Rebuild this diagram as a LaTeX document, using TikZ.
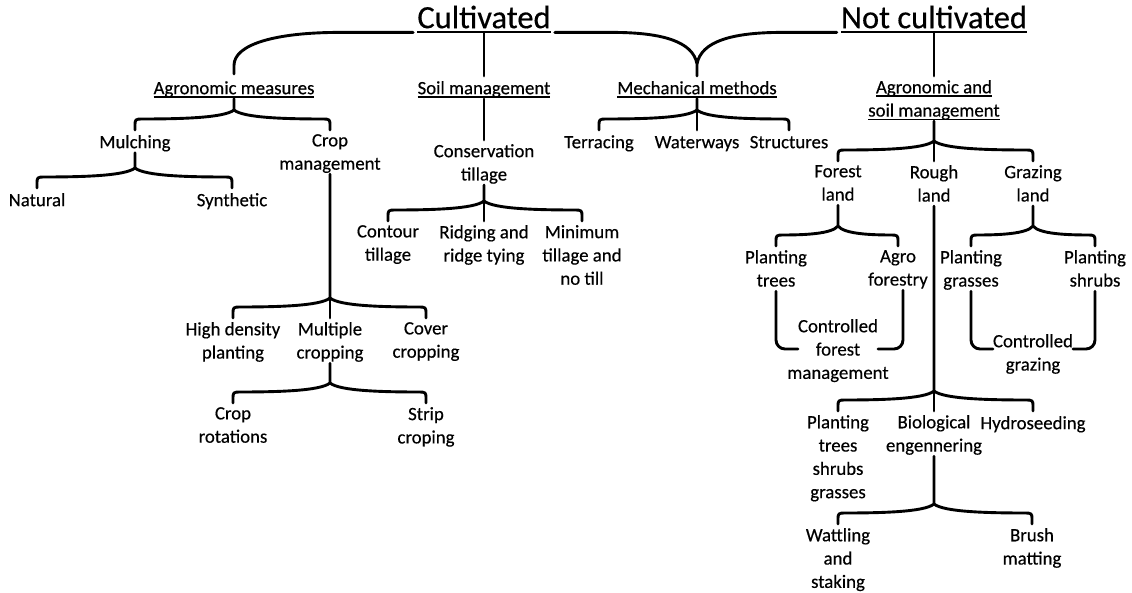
\documentclass[tikz,border=0pt]{standalone}
\usepackage{fontspec}
\setmainfont{Carlito}[FakeBold=0.4]
\usetikzlibrary{calc}

% underlines at a fixed depth (they run through descenders)
\newcommand\ulh[1]{\setbox0=\hbox{#1}\rlap{\rule[-3.4pt]{\wd0}{1.4pt}}\box0}
\newcommand\ult[1]{\setbox0=\hbox{#1}\rlap{\rule[-5pt]{\wd0}{2pt}}\box0}

\tikzset{
  br/.style={line width=2.9pt, line join=round, line cap=round},
  lbl/.style={inner sep=0pt, align=center, anchor=north,
    font=\fontsize{18.8}{23.3}\selectfont,
    execute at begin node=\rule{0pt}{14pt},
    execute at end node=\rule[-4.5pt]{0pt}{4.5pt}},
  ttl/.style={inner sep=0pt, anchor=north,
    font=\fontsize{32.5}{38}\selectfont,
    execute at begin node=\rule{0pt}{24pt},
    execute at end node=\rule[-5pt]{0pt}{5pt}},
}

% curly bracket from a parent node down to its left and right children
\newcommand\brc[3]{%
  \draw[br] let \p1=(#1.south), \p2=(#2.north), \p3=(#3.north) in
    (\x1,\y1) -- (\x1,{\y2+24pt})
    (\x2,{\y2+4pt}) -- (\x2,{\y2+10pt})
      .. controls (\x2,{\y2+14pt}) and ({\x2+1pt},{\y2+15pt}) .. ({\x2+6pt},{\y2+15pt})
      .. controls ({\x2+0.45*(\x1-\x2)},{\y2+15pt}) and ({\x1-0.1*(\x1-\x2)},{\y2+16pt}) .. (\x1,{\y2+24pt})
      .. controls ({\x1+0.1*(\x3-\x1)},{\y2+16pt}) and ({\x3-0.45*(\x3-\x1)},{\y2+15pt}) .. ({\x3-6pt},{\y2+15pt})
      .. controls ({\x3-1pt},{\y2+15pt}) and (\x3,{\y2+14pt}) .. (\x3,{\y2+10pt})
      -- (\x3,{\y2+4pt});}
% straight stem from a parent node down to a child
\newcommand\stem[2]{%
  \draw[br] let \p1=(#1.south), \p2=(#2.north) in (\x1,\y1) -- (\x1,{\y2+4pt});}

\begin{document}
\begin{tikzpicture}[x=1pt,y=-1pt]
\useasboundingbox (0,0) rectangle (1132,593);

% titles and headings
\node[ttl] (cult) at (484,4) {\ult{Cultivated}};
\node[ttl] (notc) at (934,4) {\ult{Not cultivated}};
\node[lbl] (agm)  at (234,80) {\ulh{Agronomic measures}};
\node[lbl] (soil) at (484,80) {\ulh{Soil management}};
\node[lbl] (mech) at (697,80) {\ulh{Mechanical methods}};
\node[lbl] (asm)  at (934,80) {\ulh{Agronomic and}\\\ulh{soil management}};

% cultivated land
\node[lbl] (mul)  at (135,134) {Mulching};
\node[lbl] (cm)   at (330,134) {Crop\\management};
\node[lbl] (nat)  at (37,192)  {Natural};
\node[lbl] (syn)  at (232,192) {Synthetic};
\node[lbl] (hdp)  at (233,322) {High density\\planting};
\node[lbl] (mc)   at (330,322) {Multiple\\cropping};
\node[lbl] (cc)   at (426,322) {Cover\\cropping};
\node[lbl] (cr)   at (233,407) {Crop\\rotations};
\node[lbl] (sc)   at (426,407) {Strip\\croping};
\node[lbl] (ct)   at (484,144) {Conservation\\tillage};
\node[lbl] (cont) at (388,225) {Contour\\tillage};
\node[lbl] (ridg) at (484,225) {Ridging and\\ridge tying};
\node[lbl] (mint) at (582,225) {Minimum\\tillage and\\no till};
\node[lbl] (ter)  at (599,134) {Terracing};
\node[lbl] (wat)  at (697,134) {Waterways};
\node[lbl] (str)  at (789,134) {Structures};

% land not cultivated
\node[lbl] (fl)   at (838,165) {Forest\\land};
\node[lbl] (rl)   at (934,165) {Rough\\land};
\node[lbl] (gl)   at (1033,165) {Grazing\\land};
\node[lbl] (pt)   at (776,250) {Planting\\trees};
\node[lbl] (af)   at (898,250) {Agro\\forestry};
\node[lbl] (pg)   at (971,250) {Planting\\grasses};
\node[lbl] (ps)   at (1095,250) {Planting\\shrubs};
\node[lbl] (cfm)  at (838,319) {Controlled\\forest\\management};
\node[lbl] (cg)   at (1033,334) {Controlled\\grazing};
\node[lbl] (ptsg) at (838,415) {Planting\\trees\\shrubs\\grasses};
\node[lbl] (bio)  at (934,415) {Biological\\engennering};
\node[lbl] (hyd)  at (1033,415) {Hydroseeding};
\node[lbl] (wts)  at (838,528) {Wattling\\and\\staking};
\node[lbl] (bm)   at (1032,528) {Brush\\matting};

% braces under the two titles
\draw[br] let \p1=(cult.south west), \p2=(agm.north) in
  ({\x1-4pt},{\y1+1pt}) -- ({\x2+106pt},{\y1+1pt})
  .. controls ({\x2+41pt},{\y1+1pt}) and (\x2,{\y1-11pt}) .. (\x2,{\y1-32pt})
  -- (\x2,{\y2+6pt});
\draw[br] let \p1=(cult.south east), \p2=(notc.south west), \p3=(mech.north) in
  ({\x1+4pt},{\y1+1pt}) -- ({\x3-85pt},{\y1+1pt})
  .. controls ({\x3-35pt},{\y1+1pt}) and ({\x3-4pt},{\y1-8pt}) .. (\x3,{\y3+16pt})
  .. controls ({\x3+4pt},{\y1-8pt}) and ({\x3+35pt},{\y1+1pt}) .. ({\x3+85pt},{\y1+1pt})
  -- ({\x2-4pt},{\y2+1pt})
  (\x3,{\y3+16pt}) -- (\x3,{\y3+4pt});
\stem{cult}{soil}
\stem{notc}{asm}

% brackets
\brc{agm}{mul}{cm}
\brc{mul}{nat}{syn}
\brc{cm}{hdp}{cc}  \stem{cm}{mc}
\brc{mc}{cr}{sc}
\stem{soil}{ct}
\brc{ct}{cont}{mint} \stem{ct}{ridg}
\brc{mech}{ter}{str} \stem{mech}{wat}
\brc{asm}{fl}{gl}  \stem{asm}{rl}
\brc{fl}{pt}{af}
\brc{gl}{pg}{ps}
\brc{rl}{ptsg}{hyd} \stem{rl}{bio}
\brc{bio}{wts}{bm}

% side brackets joining the controlled management nodes
\draw[br, rounded corners=9pt] let \p1=(pt.south), \p2=(cfm.north) in
  (\x1,\y1) -- (\x1,{\y2-30pt}) -- ({\x2-40pt},{\y2-30pt});
\draw[br, rounded corners=9pt] let \p1=(af.south), \p2=(cfm.north) in
  ({\x1+5pt},\y1) -- ({\x1+5pt},{\y2-30pt}) -- ({\x2+40pt},{\y2-30pt});
\draw[br, rounded corners=9pt] let \p1=(pg.south), \p2=(cg.north) in
  (\x1,\y1) -- (\x1,{\y2-15pt}) -- ({\x2-40pt},{\y2-15pt});
\draw[br, rounded corners=9pt] let \p1=(ps.south), \p2=(cg.north) in
  (\x1,\y1) -- (\x1,{\y2-15pt}) -- ({\x2+40pt},{\y2-15pt});
\end{tikzpicture}
\end{document}
